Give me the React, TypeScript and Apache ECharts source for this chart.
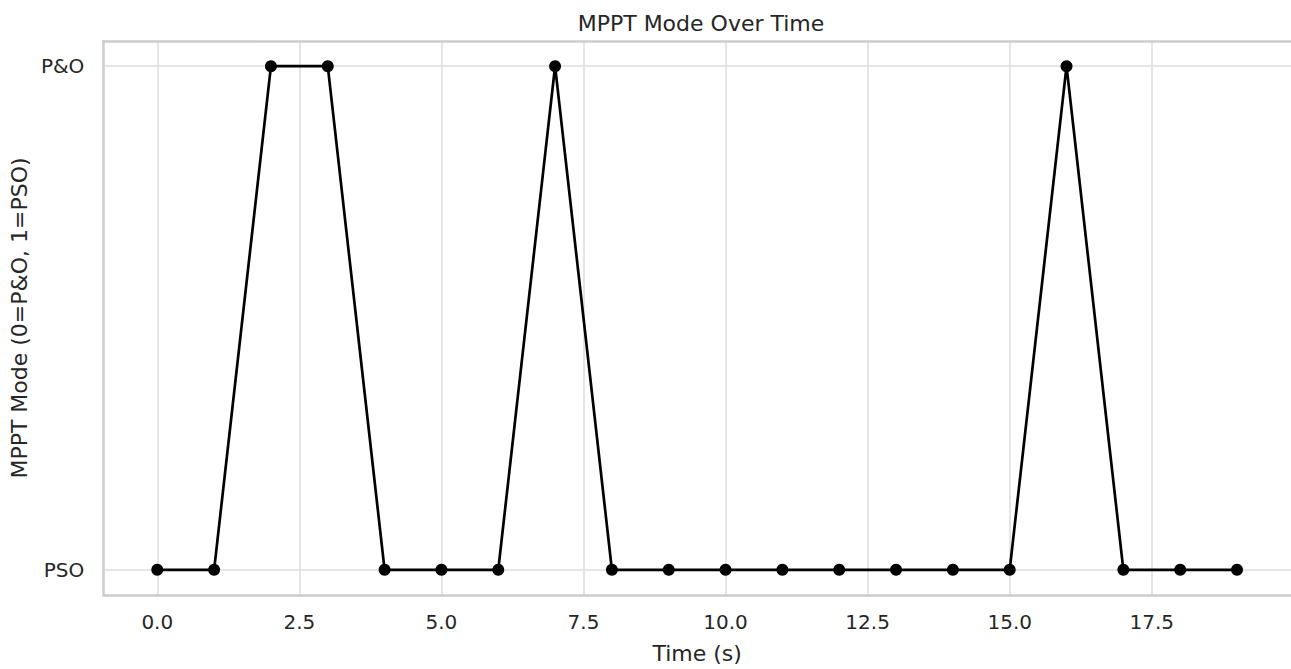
import React, { useEffect, useRef } from "react";
import * as echarts from "echarts";

const times = [0, 1, 2, 3, 4, 5, 6, 7, 8, 9, 10, 11, 12, 13, 14, 15, 16, 17, 18, 19];
// 0 = P&O, 1 = PSO
const modes = [1, 1, 0, 0, 1, 1, 1, 0, 1, 1, 1, 1, 1, 1, 1, 1, 0, 1, 1, 1];
const xTicks = [0, 2.5, 5, 7.5, 10, 12.5, 15, 17.5];
const yTicks = [0, 1];
const yTickLabels = ["P&O", "PSO"];

const FONT = "DejaVu Sans";
const TEXT = "#262626";
const SPINE = { show: true, onZero: false, lineStyle: { color: "#cccccc", width: 2.5 } };
const GRIDLINE = { show: true, lineStyle: { color: "#dddddd", width: 1.5 } };

export default function App() {
  const ref = useRef<HTMLDivElement>(null);
  useEffect(() => {
    if (!ref.current) return;
    const chart = echarts.init(ref.current, undefined, { renderer: "svg" });
    const data = times.map((t, i) => [t, modes[i]]);
    chart.setOption({
      animation: false,
      backgroundColor: "#ffffff",
      textStyle: { fontFamily: FONT },
      title: {
        text: "MPPT Mode Over Time",
        left: 696,
        textAlign: "center",
        top: 7,
        textStyle: { fontFamily: FONT, fontSize: 22, fontWeight: "normal", color: TEXT },
      },
      grid: {
        left: 103,
        top: 41,
        width: 1191,
        height: 557.6,
        show: false,
        containLabel: false,
      },
      xAxis: [
        {
          type: "value",
          position: "bottom",
          min: -0.95,
          max: 19.95,
          name: "Time (s)",
          nameLocation: "middle",
          nameGap: 47,
          nameTextStyle: { fontFamily: FONT, fontSize: 22, color: TEXT },
          axisLine: SPINE,
          axisTick: { show: false, customValues: xTicks },
          axisLabel: {
            customValues: xTicks,
            formatter: (v: number) => v.toFixed(1),
            fontFamily: FONT,
            fontSize: 20,
            color: TEXT,
            margin: 17,
          },
          splitLine: GRIDLINE,
        },
        {
          type: "value",
          position: "top",
          min: -0.95,
          max: 19.95,
          axisLine: SPINE,
          axisTick: { show: false },
          axisLabel: { show: false },
          splitLine: { show: false },
        },
      ],
      yAxis: {
        type: "value",
        inverse: true,
        min: -0.05,
        max: 1.05,
        name: "MPPT Mode (0=P&O, 1=PSO)",
        nameLocation: "middle",
        nameGap: 71,
        nameTextStyle: { fontFamily: FONT, fontSize: 22, color: TEXT },
        axisLine: SPINE,
        axisTick: { show: false, customValues: yTicks },
        axisLabel: {
          customValues: yTicks,
          formatter: (v: number) => yTickLabels[Math.round(v)] ?? "",
          fontFamily: FONT,
          fontSize: 20,
          color: TEXT,
          margin: 19,
        },
        splitLine: GRIDLINE,
      },
      series: [
        {
          type: "line",
          xAxisIndex: 0,
          data,
          symbol: "circle",
          symbolSize: 12,
          lineStyle: { color: "#000000", width: 2.7 },
          itemStyle: { color: "#000000" },
          z: 5,
        },
      ],
    });
    return () => chart.dispose();
  }, []);
  return (
    <div
      ref={ref}
      style={{ position: "fixed", left: 0, top: 0, width: 1291, height: 669 }}
    />
  );
}
